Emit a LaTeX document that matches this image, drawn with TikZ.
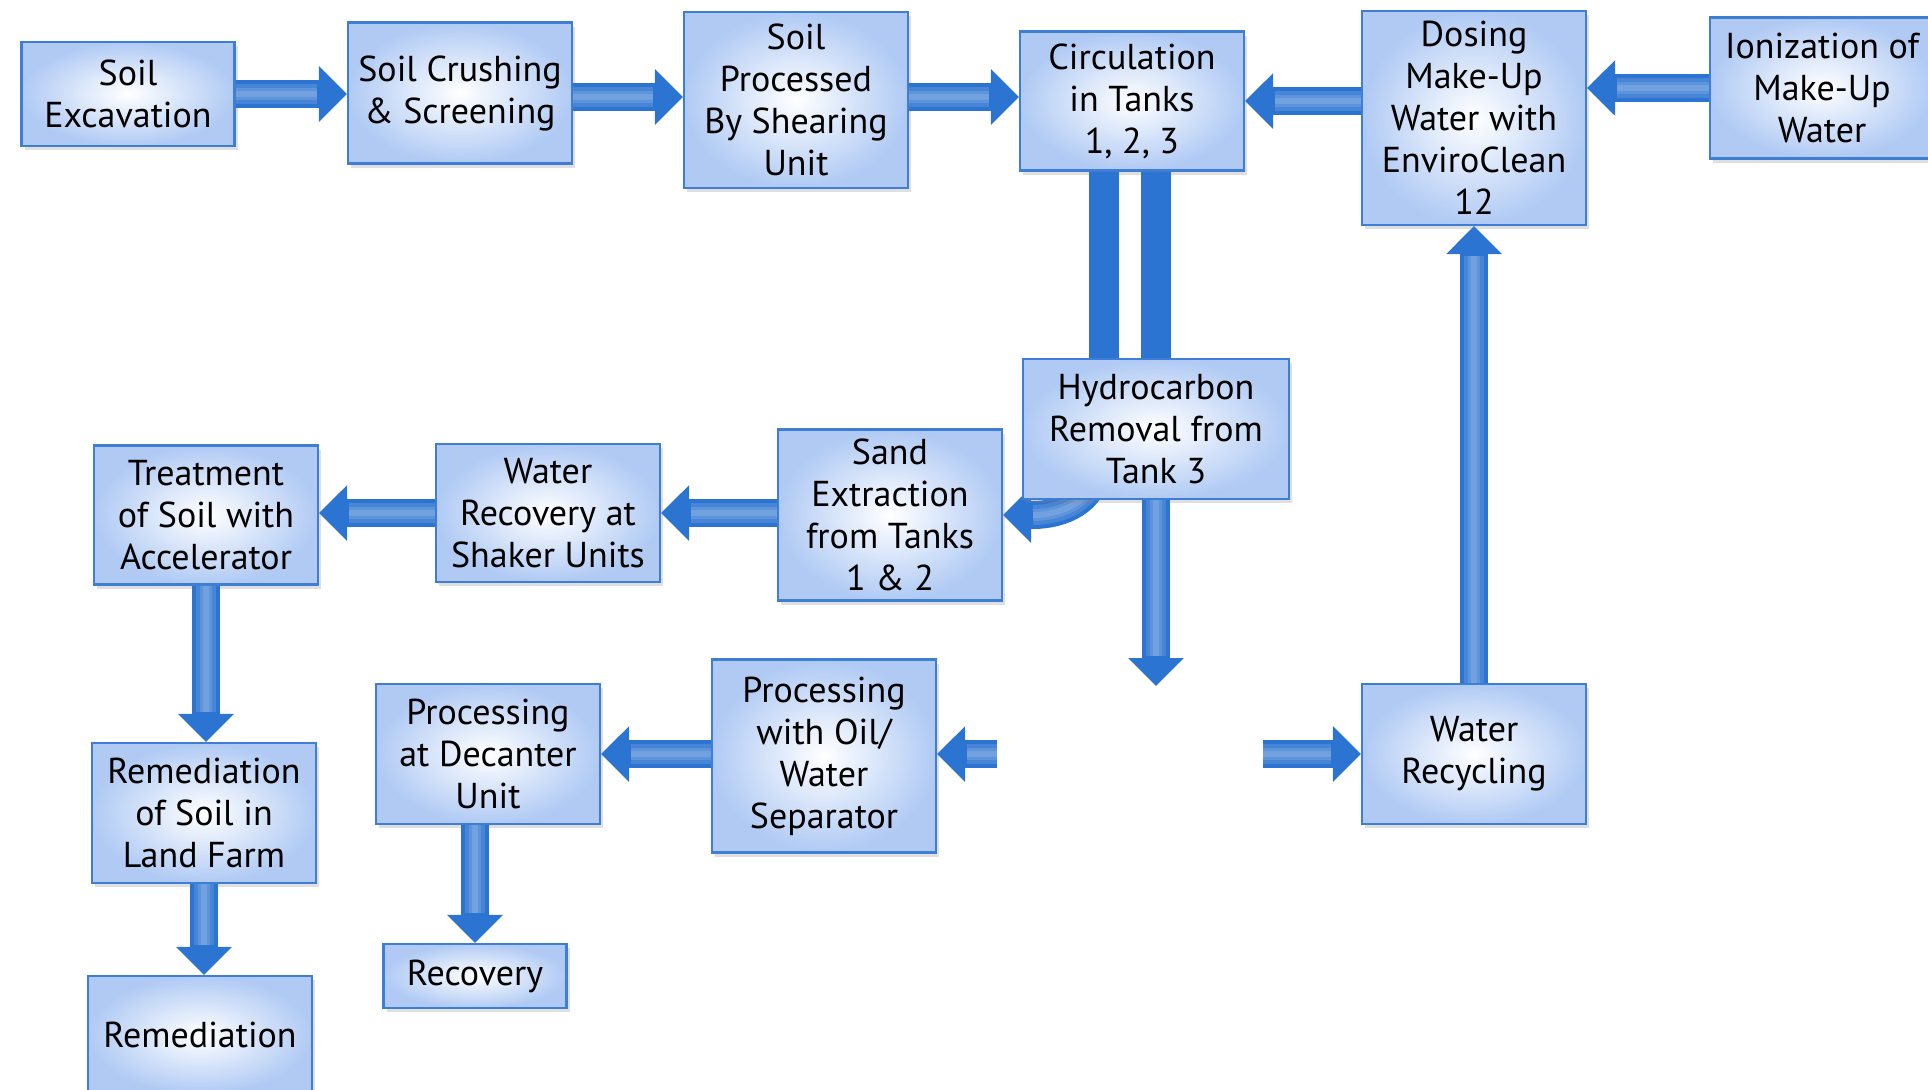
\documentclass[tikz,border=0pt]{standalone}
\usepackage{fontspec}
\setmainfont{PT Sans}
\usepackage{tikz}
\usetikzlibrary{shadows,arrows.meta,calc}
\definecolor{boxline}{RGB}{62,126,212}
\definecolor{boxfill}{RGB}{176,202,244}
\definecolor{flowblue}{RGB}{44,116,210}
\pgfdeclarelayer{bg}
\pgfsetlayers{bg,main}
\tikzset{
    stage/.style={draw=boxline, line width=1.1pt, inner color=white, outer color=boxfill,
        align=center, inner sep=2pt, minimum width=112pt,
        font=\fontsize{18}{21}\selectfont,
        drop shadow={shadow xshift=1.5pt, shadow yshift=-2pt, opacity=0.25}},
    glow/.style={postaction={draw=white, line width=#1, opacity=0.13, -, shorten >=15pt}},
    flow/.style={draw=flowblue, line width=14pt, -{Triangle[length=14pt,width=27pt]},
        glow=10pt, glow=6pt, glow=3pt},
    bar/.style={draw=flowblue, line width=15pt}
}

\begin{document}
\begin{tikzpicture}[x=0.5pt,y=-0.5pt]
    \useasboundingbox (0,0) rectangle (1928,1089);
    % top row
    \node[stage, minimum width=106.5pt, minimum height=52pt] (exc) at (128,94) {Soil\\Excavation};
    \node[stage, minimum height=70.5pt] (crush) at (460,93) {Soil Crushing\\\& Screening};
    \node[stage, minimum height=88pt] (shear) at (796,100) {Soil\\Processed\\By Shearing\\Unit};
    \node[stage, minimum height=69.5pt] (circ) at (1132,101) {Circulation\\in Tanks\\1, 2, 3};
    \node[stage, minimum height=107pt] (dose) at (1474,118) {Dosing\\Make-Up\\Water with\\EnviroClean\\12};
    \node[stage, minimum height=70.5pt] (ion) at (1822,88) {Ionization of\\Make-Up\\Water};
    % middle row
    \node[stage, minimum width=133pt, minimum height=70pt] (hydro) at (1156,429) {Hydrocarbon\\Removal from\\Tank 3};
    \node[stage, minimum height=85.5pt] (sand) at (890,515) {Sand\\Extraction\\from Tanks\\1 \& 2};
    \node[stage, minimum height=69pt] (shaker) at (548,513) {Water\\Recovery at\\Shaker Units};
    \node[stage, minimum height=69.5pt] (treat) at (206,515) {Treatment\\of Soil with\\Accelerator};
    % lower part
    \node[stage, minimum height=70pt] (farm) at (204,813) {Remediation\\of Soil in\\Land Farm};
    \node[stage, minimum height=59pt] (remed) at (200,1035) {Remediation};
    \node[stage, minimum height=70pt] (decant) at (488,754) {Processing\\at Decanter\\Unit};
    \node[stage, minimum width=91.5pt, minimum height=32pt] (recov) at (475,976) {Recovery};
    \node[stage, minimum height=96.5pt] (sep) at (824,756) {Processing\\with Oil/\\Water\\Separator};
    \node[stage, minimum height=70pt] (recyc) at (1474,754) {Water\\Recycling};
    % loose ends
    \coordinate (drop) at (1156,686);
    \coordinate (sepin) at (997,754);
    \coordinate (recin) at (1263,754);
    % connectors
    \draw[flow] (exc.east) -- (exc.east -| crush.west);
    \draw[flow] ([yshift=-2pt]crush.east) -- ([yshift=-2pt]crush.east -| shear.west);
    \draw[flow] ([yshift=-2pt]crush.east -| shear.east) -- ([yshift=-2pt]crush.east -| circ.west);
    \draw[flow] (circ.east -| dose.west) -- (circ.east);
    \draw[flow] (ion.west) -- (ion.west -| dose.east);
    \draw[bar] ($(circ.south)+(-28,0)$) coordinate (b1) -- (b1 |- hydro.north);
    \draw[bar] ($(circ.south)+(24,0)$) coordinate (b2) -- (b2 |- hydro.north);
    \draw[flow] (hydro.south) -- (drop);
    \begin{pgfonlayer}{bg}
        \draw[flow] ($(hydro.south)+(-61,-30)$) to[out=-90,in=0] ($(sand.east)+(30,0)$) -- (sand.east);
    \end{pgfonlayer}
    \draw[flow] (sand.west |- shaker.east) -- (shaker.east);
    \draw[flow] (shaker.west) -- (shaker.west -| treat.east);
    \draw[flow] (treat.south) -- (treat.south |- farm.north);
    \draw[flow] (farm.south) -- (farm.south |- remed.north);
    \draw[flow] (sep.west |- decant.east) -- (decant.east);
    \draw[flow] (recov.north |- decant.south) -- (recov.north);
    \draw[flow] (sepin) -- (sepin -| sep.east);
    \draw[flow] (recin) -- (recin -| recyc.west);
    \draw[flow] (recyc.north) -- (dose.south);
\end{tikzpicture}
\end{document}
